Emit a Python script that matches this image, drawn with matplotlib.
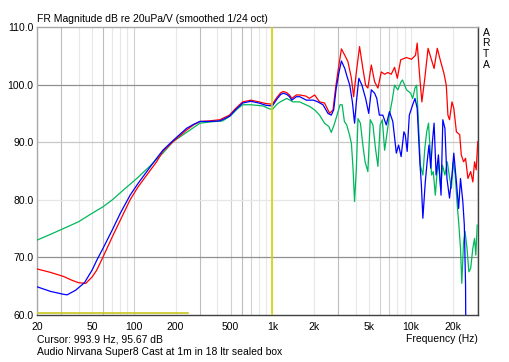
import numpy as np
import matplotlib
matplotlib.use("Agg")
import matplotlib.pyplot as plt

plt.rcParams['font.family'] = ['Liberation Sans', 'DejaVu Sans']

# --- data (Hz, dB) ---
red_f = [20, 25, 31, 36, 40, 45, 50, 54, 60, 70, 80, 94, 107, 124, 146, 162, 192,
         240, 270, 300, 350, 418, 490, 540, 610, 700, 800, 900, 1000, 1080, 1150,
         1200, 1270, 1330, 1380, 1490, 1575, 1750, 1850, 2020, 2190, 2380, 2590,
         2740, 2860, 2970, 3150, 3330, 3510, 3720, 3860, 4040, 4260, 4500, 4710,
         4890, 5180, 5470, 5780, 6110, 6460, 6820, 7210, 7620, 7980, 8440, 9280,
         10100, 10800, 11100, 11600, 12000, 12600, 13300, 14200, 14700, 15500,
         16400, 17300, 18000, 18500, 19000, 19800, 20400, 21300, 22500, 23100,
         24000, 24800, 25800, 27000, 28000, 28800, 29600, 30400]
red_db = [68.0, 67.4, 66.7, 66.0, 65.6, 65.5, 66.6, 67.8, 70.1, 73.6, 76.5, 80.0,
          82.2, 84.3, 86.6, 88.4, 90.1, 92.1, 93.0, 93.6, 93.7, 93.9, 94.7, 95.8,
          97.0, 97.3, 97.0, 96.7, 96.6, 97.8, 98.6, 98.8, 98.6, 98.2, 97.6, 98.2,
          98.2, 98.0, 97.6, 98.2, 97.0, 96.8, 95.0, 95.6, 99.4, 102.2, 106.2,
          105.1, 104.0, 101.1, 97.9, 102.2, 106.6, 102.8, 99.9, 99.4, 103.4, 100.5,
          99.4, 102.2, 101.8, 102.1, 101.8, 103.0, 101.1, 104.3, 104.7, 104.4,
          105.1, 107.2, 101.1, 97.0, 101.1, 106.3, 104.0, 102.8, 106.3, 104.0,
          102.0, 99.9, 94.7, 93.9, 97.0, 95.9, 91.8, 91.3, 87.8, 86.6, 87.2, 83.7,
          84.9, 83.1, 86.6, 85.2, 90.1]

blue_f = [20, 25, 31, 33, 38, 44, 50, 54, 60, 70, 80, 94, 107, 124, 146, 162, 192,
          240, 270, 300, 350, 418, 490, 540, 610, 700, 800, 900, 1000, 1080, 1150,
          1200, 1270, 1330, 1380, 1490, 1575, 1760, 1980, 2130, 2320, 2520, 2660,
          2770, 2890, 3030, 3150, 3330, 3460, 3620, 3780, 3920, 4040, 4210, 4430,
          4710, 4960, 5180, 5470, 5670, 5920, 6270, 6640, 7000, 7400, 7850, 8150,
          8500, 8900, 9100, 9400, 9740, 10300, 10700, 11100, 11600, 11900, 12200,
          12700, 13100, 13500, 13900, 14300, 14700, 15200, 15800, 16500, 17000,
          17600, 18200, 19000, 19800, 20400, 21300, 22100, 22800, 23700, 24300,
          24800, 25000]
blue_db = [64.9, 64.1, 63.6, 63.5, 64.3, 65.6, 67.8, 69.5, 71.6, 74.8, 77.7, 80.8,
           82.8, 84.9, 87.2, 88.6, 90.3, 92.4, 93.1, 93.6, 93.6, 93.7, 94.5, 95.6,
           96.8, 97.1, 96.8, 96.4, 96.3, 97.5, 98.3, 98.5, 98.3, 97.9, 97.3, 97.9,
           97.9, 97.3, 97.3, 97.0, 96.5, 95.0, 94.7, 95.6, 99.4, 102.2, 104.1, 102.8,
           101.4, 99.9, 97.0, 93.3, 97.0, 101.1, 99.9, 97.6, 95.0, 99.1, 98.5, 97.6,
           94.7, 94.7, 93.0, 95.3, 93.6, 88.1, 89.5, 87.5, 91.8, 91.3, 88.4, 94.7,
           96.5, 97.6, 95.9, 86.6, 82.6, 76.8, 83.1, 86.6, 89.5, 85.5, 90.1, 93.3,
           84.3, 87.8, 80.8, 93.9, 92.4, 83.7, 80.3, 84.3, 88.1, 83.1, 78.5, 83.7,
           79.7, 75.6, 65.2, 50.0]

green_f = [20, 25, 31, 40, 48, 60, 70, 85, 105, 130, 162, 192, 254, 300, 350, 438,
           500, 560, 610, 700, 855, 950, 1000, 1080, 1140, 1270, 1410, 1570, 1710,
           1860, 2020, 2190, 2380, 2560, 2660, 2790, 2930, 3080, 3190, 3310, 3440,
           3600, 3720, 3820, 3920, 4040, 4150, 4320, 4500, 4670, 4890, 5090, 5320,
           5550, 5780, 6000, 6220, 6460, 6700, 7000, 7330, 7620, 8050, 8500, 8700,
           9300, 9960, 10300, 10700, 11000, 11300, 11700, 12200, 12600, 13000,
           13400, 13700, 14100, 14500, 15000, 15400, 15800, 16400, 16900, 17600,
           18300, 18900, 19600, 20200, 20900, 21500, 22100, 22800, 23300, 24000,
           24600, 25400, 26200, 27000, 28000, 28800, 29400, 30100]
green_db = [73.0, 74.0, 75.0, 76.2, 77.4, 78.8, 80.0, 81.8, 83.7, 85.8, 88.1, 90.1,
            92.1, 93.3, 93.5, 93.7, 94.6, 95.8, 96.5, 96.5, 96.3, 95.8, 95.67, 96.6,
            97.0, 97.6, 97.0, 97.0, 96.6, 96.2, 95.6, 94.7, 93.3, 92.7, 91.7, 93.0,
            94.7, 96.5, 96.5, 93.6, 93.0, 91.3, 89.8, 85.5, 79.7, 85.5, 94.1, 93.3,
            89.5, 86.6, 84.9, 93.9, 93.0, 88.9, 85.8, 93.0, 93.9, 88.6, 91.3, 94.7,
            97.3, 99.9, 99.1, 100.5, 100.8, 99.1, 98.5, 97.6, 99.4, 99.9, 94.1, 86.0,
            84.3, 88.9, 91.8, 93.3, 89.5, 84.3, 84.9, 80.8, 84.3, 86.6, 82.0, 86.0,
            84.3, 86.6, 84.3, 82.0, 86.6, 84.3, 79.7, 76.2, 71.6, 65.5, 72.7, 74.5,
            71.6, 67.5, 68.1, 71.6, 73.3, 70.4, 75.6]

marker_span = [20, 245]      # yellow bar at the bottom
marker_level = 60.3
cursor_f = 993.9

xticks = [20, 50, 100, 200, 500, 1000, 2000, 5000, 10000, 20000]
xticklabels = ['20', '50', '100', '200', '500', '1k', '2k', '5k', '10k', '20k']
yticks = [60, 70, 80, 90, 100, 110]

# --- figure ---
W, H = 509, 362
fig = plt.figure(figsize=(W / 100, H / 100), dpi=100)
ax = fig.add_axes([37 / W, 1 - 315 / H, 441 / W, 288 / H])
ax.set_xscale('log')
ax.set_xlim(20, 30500)
ax.set_ylim(60, 110)

# grid (ARTA style, uneven shades)
dark_v = {30, 60, 300, 600, 3000}
mid_v = {100, 500, 700, 6000, 7000}
for dec in [10, 100, 1000, 10000]:
    for m in range(1, 10):
        f = m * dec
        if 20 < f < 30500:
            if f in dark_v:
                c = '#bcbcbc'
            elif f in mid_v:
                c = '#d0d0d0'
            else:
                c = '#e8e8e8'
            ax.axvline(f, color=c, lw=0.8, zorder=1)
hcol = {70: '#909090', 80: '#e6e6e6', 90: '#c8c8c8', 100: '#909090'}
for yv, c in hcol.items():
    ax.axhline(yv, color=c, lw=0.9, zorder=1)

ax.plot(green_f, green_db, color='#00b85c', lw=0.9, zorder=3)
ax.plot(red_f, red_db, color='#ff0000', lw=0.9, zorder=4)
ax.plot(blue_f, blue_db, color='#0000ff', lw=0.9, zorder=5)

ax.plot(marker_span, [marker_level, marker_level], color='#c8c820', lw=1.2, zorder=6)
ax.axvline(cursor_f, color='#d4d400', lw=1.2, zorder=6)

ax.set_xticks(xticks)
ax.set_xticklabels(xticklabels)
ax.xaxis.set_minor_locator(matplotlib.ticker.NullLocator())
ax.set_yticks(yticks)
ax.set_yticklabels(['%.1f' % v for v in yticks])
ax.tick_params(axis='both', length=0, labelsize=7.5, colors='black')
ax.tick_params(axis='x', pad=5)
ax.tick_params(axis='y', pad=2.5)

for s in ['left', 'top']:
    ax.spines[s].set_color('#a8a8a8')
for s in ['right', 'bottom']:
    ax.spines[s].set_color('#404040')
for s in ax.spines.values():
    s.set_linewidth(1.0)

fs = 7.5
fig.text(37 / W, 1 - 19.5 / H, 'FR Magnitude dB re 20uPa/V (smoothed 1/24 oct)',
         fontsize=fs, ha='left', va='center')
for i, ch in enumerate('ARTA'):
    fig.text(486 / W, 1 - (32.5 + 10.8 * i) / H, ch, fontsize=fs,
             ha='center', va='center')
fig.text(37 / W, 1 - 339 / H, 'Cursor: 993.9 Hz, 95.67 dB', fontsize=fs,
         ha='left', va='center')
fig.text(478 / W, 1 - 339 / H, 'Frequency (Hz)', fontsize=fs,
         ha='right', va='center')
fig.text(37 / W, 1 - 352 / H, 'Audio Nirvana Super8 Cast at 1m in 18 ltr sealed box',
         fontsize=fs, ha='left', va='center')

fig.savefig('out.png', dpi=100)
